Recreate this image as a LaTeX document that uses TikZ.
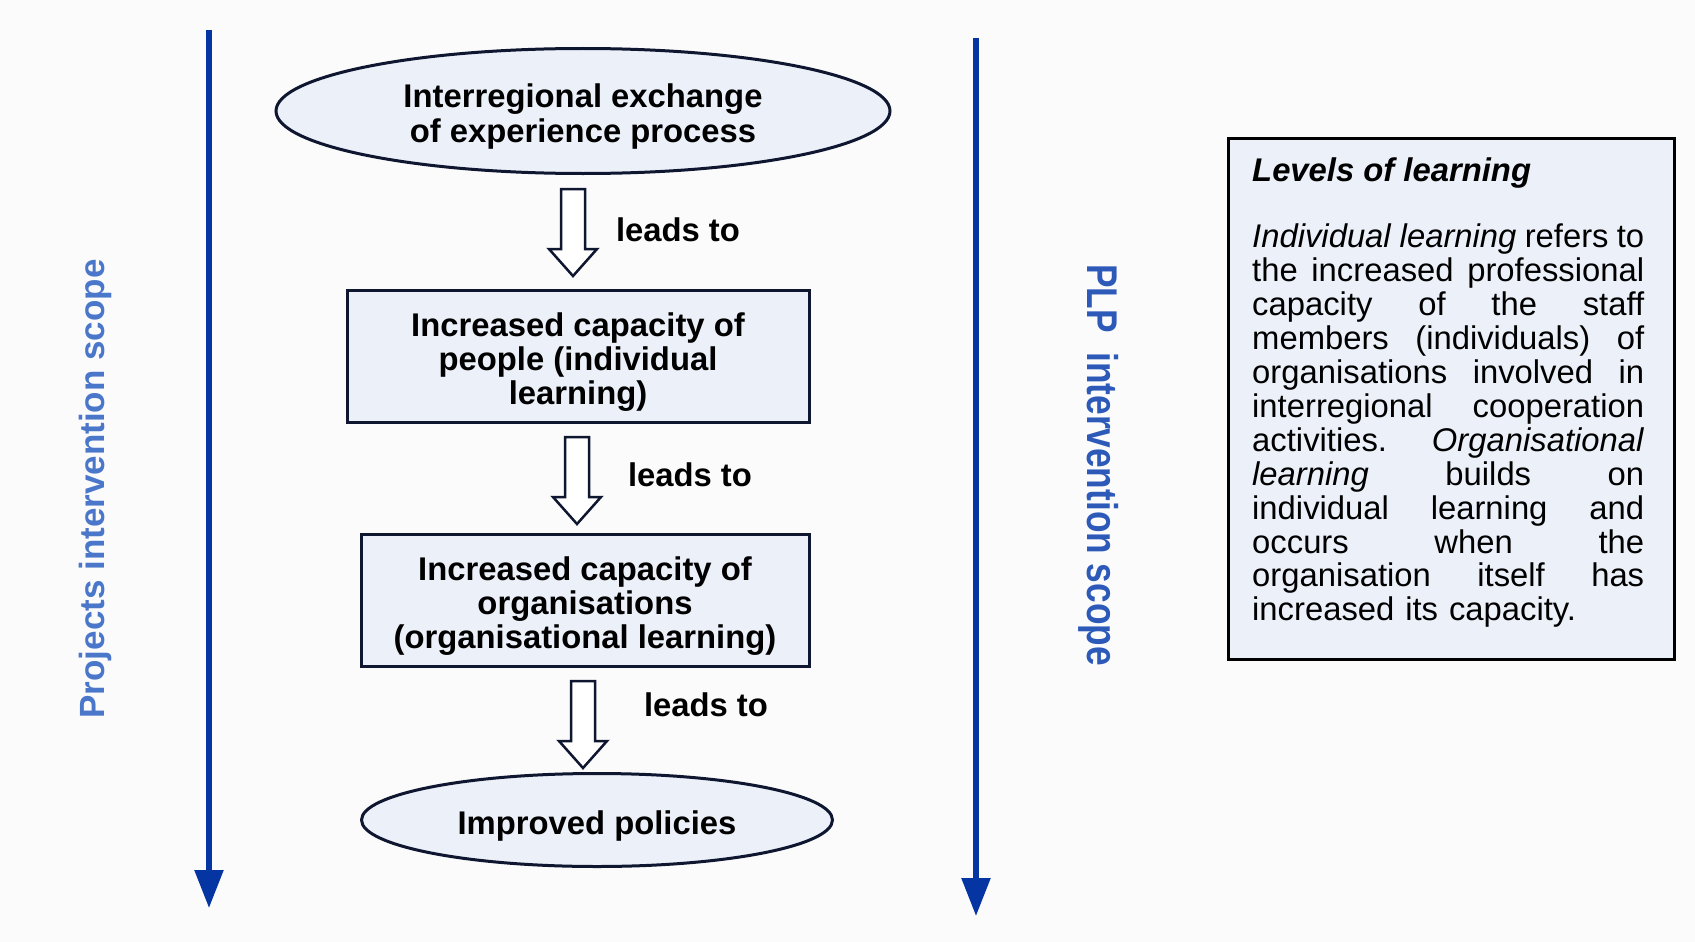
\documentclass[tikz,border=0pt]{standalone}
\usepackage{fontspec}
\setmainfont{Liberation Sans}
\usepackage{graphicx}
\usetikzlibrary{shapes.geometric,arrows.meta,calc}
\definecolor{fillblue}{HTML}{ECF0F9}
\definecolor{edge}{HTML}{0E1630}
\definecolor{arrowblue}{HTML}{0535A3}
\definecolor{labelblueA}{HTML}{4A77C9}
\definecolor{labelblueB}{HTML}{2D5AB8}
\definecolor{bgpanel}{HTML}{FBFBFC}
\newcommand\jline[1]{\leavevmode\hbox to 392pt{#1}}
\newcommand\gap{\hfill}
\newcommand\toppad{\rule{0pt}{35pt}}
\begin{document}
\begin{tikzpicture}[x=1pt,y=-1pt,
  shapeline/.style={draw=edge, line width=3pt, fill=fillblue},
  ovalnode/.style={shapeline, ellipse, inner sep=0pt, align=center, font=\bfseries\fontsize{32.8}{35}\selectfont},
  boxnode/.style={shapeline, rectangle, inner sep=0pt, align=center, font=\bfseries\fontsize{32.8}{34}\selectfont},
  leadlabel/.style={font=\bfseries\fontsize{32.8}{34}\selectfont, inner sep=0pt},
  hollow/.style={draw=edge, line width=2.5pt, fill=white, line join=miter},
  hollowdown/.pic={\draw[hollow] (0,0) -- (12,0) -- (12,60) -- (24,60) -- (0,87) -- (-24,60) -- (-12,60) -- (-12,0) -- cycle;},
  scopearrow/.style={draw=arrowblue, line width=5.5pt, -{Triangle[length=38pt,width=28pt]}},
  infoframe/.style={draw=black, line width=3pt, fill=fillblue, rectangle, inner sep=0pt},
]
\fill[bgpanel] (0,0) rectangle (1695,942);
\useasboundingbox (0,0) rectangle (1695,942);

% vertical scope arrows
\coordinate (ls) at (209,30);
\coordinate (le) at (209,908);
\coordinate (rs) at (976,38);
\coordinate (re) at (976,916);
\draw[scopearrow] (ls) -- (le);
\draw[scopearrow] (rs) -- (re);

% scope labels
\node[rotate=90, text=labelblueA, font=\bfseries\fontsize{35}{40}\selectfont, inner sep=0pt] (lscope) at (95,489) {Projects intervention scope};
\node[rotate=-90, text=labelblueB, font=\bfseries\fontsize{43}{46}\selectfont, inner sep=0pt] (rscope) at (1099,465) {\scalebox{0.82}[1]{PLP\ \ intervention scope}};

% flow
\node[ovalnode, minimum width=614pt, minimum height=125pt] (top) at (583,111) {\toppad Interregional exchange\\of experience process};
\node[boxnode, minimum width=462pt, minimum height=132pt] (b1) at (578,356) {\toppad Increased capacity of\\people (individual\\learning)};
\node[boxnode, minimum width=448pt, minimum height=132pt] (b2) at (585,600) {\toppad Increased capacity of\\organisations\\(organisational learning)};
\node[ovalnode, minimum width=471pt, minimum height=93pt] (bot) at (597,820) {\toppad Improved policies};

\coordinate (h1) at (573,189);
\coordinate (h2) at (577,437);
\coordinate (h3) at (583,681);
\pic at (h1) {hollowdown};
\pic at (h2) {hollowdown};
\pic at (h3) {hollowdown};

\node[leadlabel] (l1) at (678,230) {leads to};
\node[leadlabel] (l2) at (690,475) {leads to};
\node[leadlabel] (l3) at (706,705) {leads to};

% info box
\node[infoframe, minimum width=446pt, minimum height=521pt, anchor=north west] (infobox) at (1227,137) {};
\node[anchor=north west, inner sep=0pt, font=\bfseries\itshape\fontsize{32.8}{33.9}\selectfont] (title) at (1252,158) {Levels of learning};
\node[anchor=north west, inner sep=0pt, text width=392pt, align=left, font=\fontsize{32.8}{33.9}\selectfont] (body) at (1252,224) {%
\jline{\textit{Individual}\gap\textit{learning}\gap refers\gap to}\\
\jline{the\gap increased\gap professional}\\
\jline{capacity\gap of\gap the\gap staff}\\
\jline{members\gap (individuals)\gap of}\\
\jline{organisations\gap involved\gap in}\\
\jline{interregional\gap cooperation}\\
\jline{activities.\gap\textit{Organisational}}\\
\jline{\textit{learning}\gap builds\gap on}\\
\jline{individual\gap learning\gap and}\\
\jline{occurs\gap when\gap the}\\
\jline{organisation\gap itself\gap has}\\
increased its capacity.};
\end{tikzpicture}
\end{document}
